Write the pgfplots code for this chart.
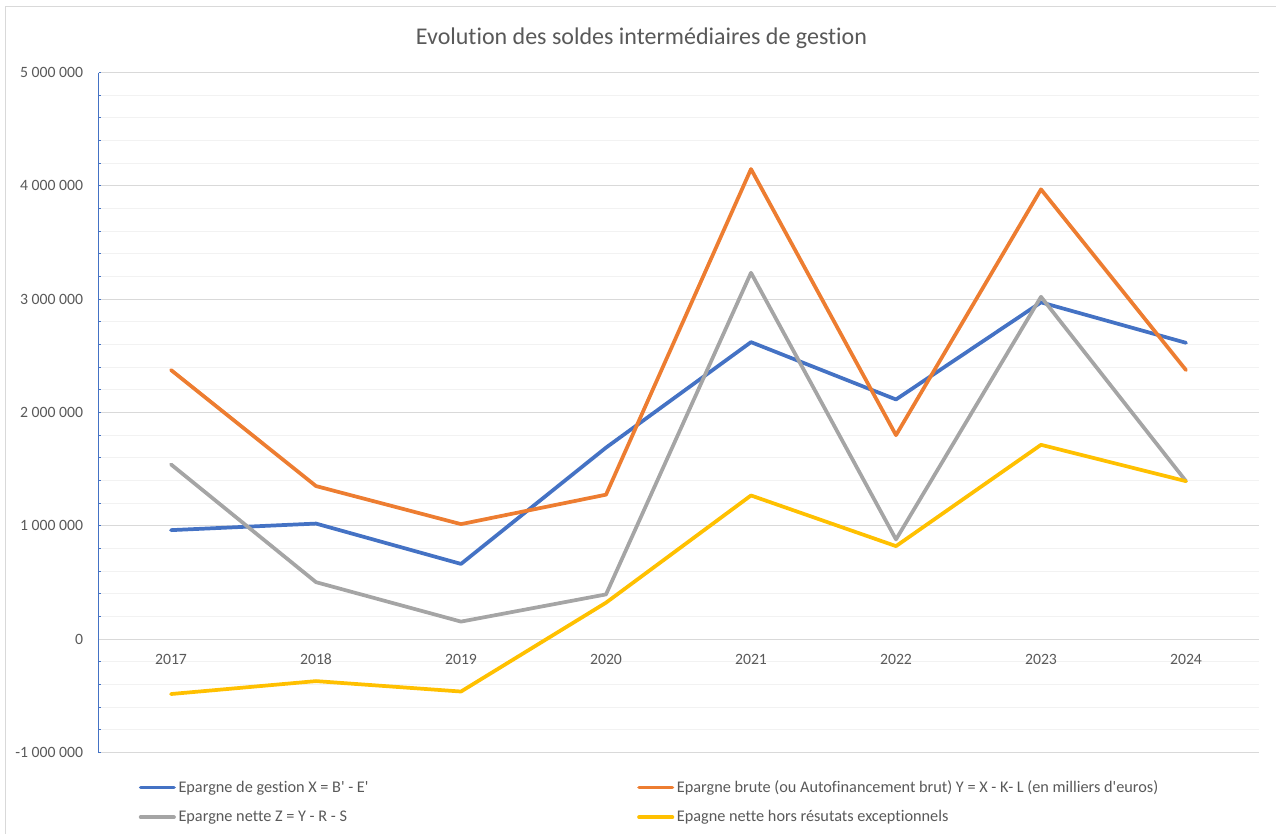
\documentclass[border=0pt]{standalone}
\usepackage{pgfplots}
\pgfplotsset{compat=1.18}
\usepackage{fontspec}
\setmainfont{Carlito}[Ligatures={TeXOff,CommonOff}]
\definecolor{sblue}{HTML}{4472C4}
\definecolor{sorange}{HTML}{ED7D31}
\definecolor{sgray}{HTML}{A5A5A5}
\definecolor{syellow}{HTML}{FFC000}
\definecolor{gridmaj}{HTML}{D9D9D9}
\definecolor{gridmin}{HTML}{F2F2F2}
\definecolor{textgray}{HTML}{595959}
\begin{document}
\begin{tikzpicture}
\path[use as bounding box] (0pt,0pt) rectangle (957pt,-625.5pt);
\draw[gridmaj, line width=0.75pt] (3.75pt,-640pt) -- (3.75pt,-5.25pt) -- (960pt,-5.25pt);
\node[text=textgray, font=\fontsize{18}{21}\selectfont] at (481.1pt,-29pt) {Evolution des soldes intermédiaires de gestion};
\begin{axis}[
  at={(73.875pt,-564.375pt)}, anchor=south west,
  width=870pt, height=510pt, scale only axis,
  xmin=-0.5, xmax=7.5, ymin=-1000000, ymax=5000000,
  axis x line*=middle, axis y line*=left,
  hide obscured x ticks=false, hide obscured y ticks=false,
  scaled y ticks=false,
  x axis line style={draw=gridmaj, line width=0.75pt, -},
  y axis line style={draw=sblue, line width=1pt, -},
  xtick={0,...,7},
  xticklabels={2017,2018,2019,2020,2021,2022,2023,2024},
  xtick style={draw=none},
  ytick={-1000000,0,1000000,2000000,3000000,4000000,5000000},
  yticklabels={-1~000~000,0,1~000~000,2~000~000,3~000~000,4~000~000,5~000~000},
  minor y tick num=4,
  ytick style={draw=sblue, line width=0.75pt},
  tick align=inside,
  major tick length=2.2pt, minor tick length=2.2pt,
  ymajorgrids, yminorgrids,
  major grid style={draw=gridmaj, line width=0.75pt},
  minor grid style={draw=gridmin, line width=0.75pt},
  tick label style={font=\fontsize{11.8}{13}\selectfont, text=textgray},
  xticklabel style={yshift=-7.5pt, text depth=0pt},
  yticklabel style={xshift=-8pt},
  legend columns=2,
  legend cell align=left,
  legend style={draw=none, fill=none, inner sep=0pt, anchor=north west, at={(0.0345,-0.037)},
    row sep=8pt,
    font=\fontsize{12.2}{14}\selectfont, text=textgray},
  legend image code/.code={\draw[#1, line width=2.8pt, line cap=round] (0pt,0pt) -- (25pt,0pt);},
  every axis plot/.append style={line width=2.8pt, line cap=round, line join=round},
]
\addplot[sblue] coordinates {(0,962000) (1,1020000) (2,664000) (3,1690000) (4,2621000) (5,2115000) (6,2972000) (7,2615000)};
\addplot[sorange] coordinates {(0,2375000) (1,1351000) (2,1015000) (3,1275000) (4,4148000) (5,1800000) (6,3969000) (7,2374000)};
\addplot[sgray] coordinates {(0,1542000) (1,503000) (2,155000) (3,395000) (4,3233000) (5,880000) (6,3021000) (7,1394000)};
\addplot[syellow] coordinates {(0,-484000) (1,-370000) (2,-462000) (3,322000) (4,1268000) (5,821000) (6,1715000) (7,1394000)};
\legend{\makebox[342pt][l]{Epargne de gestion X = B' - E'},
  Epargne brute (ou Autofinancement brut) Y = X - K- L (en milliers d'euros),
  \makebox[342pt][l]{Epargne nette Z = Y - R - S},
  Epagne nette hors résutats exceptionnels}
\end{axis}
\end{tikzpicture}
\end{document}
